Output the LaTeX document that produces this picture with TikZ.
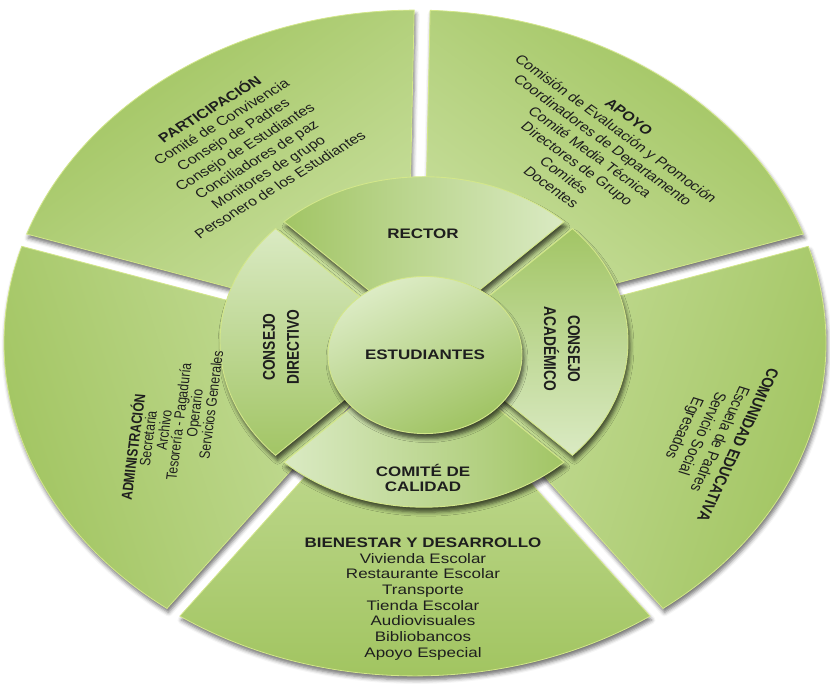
\documentclass[tikz,border=0pt]{standalone}
\usepackage{fontspec}
\setmainfont{Liberation Sans}
\usetikzlibrary{shadows.blur,calc}
\definecolor{gdark}{HTML}{9FC35D}
\definecolor{glight}{HTML}{CAE0A0}
\definecolor{mdark}{HTML}{A2C565}
\definecolor{mlight}{HTML}{DAEAC3}
\definecolor{ilight}{HTML}{DDECC6}
\definecolor{idark}{HTML}{9FC362}
\definecolor{edge}{HTML}{D3E78A}
\definecolor{ink}{HTML}{1E1E1E}
% ring segment: #1 style, #2 cx, #3 cy, #4 R, #5 t1, #6 t2, #7 half gap
\newcommand\ringseg[7]{%
  \pgfmathsetmacro\sgd{asin(#7/#4)}%
  \pgfmathsetmacro\sga{#5+\sgd}%
  \pgfmathsetmacro\sgb{#6-\sgd}%
  \pgfmathsetmacro\sgm{(#5+#6)/2}%
  \pgfmathsetmacro\sgr{#7/sin((#6-#5)/2)}%
  \path[#1] ([shift={(#2,#3)}]\sgm:\sgr pt) -- ([shift={(#2,#3)}]\sga:#4pt)
     arc[start angle=\sga, end angle=\sgb, radius=#4pt] -- cycle;
}
\tikzset{
  outerseg/.style={draw=edge, line width=0.8pt,
    blur shadow={shadow xshift=1.5pt, shadow yshift=-4pt, shadow blur radius=4pt, shadow opacity=55}},
  midseg/.style={draw=edge, line width=0.9pt,
    blur shadow={shadow xshift=2pt, shadow yshift=-5pt, shadow blur radius=4pt, shadow opacity=65}},
  listtxt/.style={text=ink, align=center, inner sep=0pt, font=\fontsize{16}{19.4}\selectfont},
  admtxt/.style={text=ink, inner sep=0pt, rotate=84, font=\fontsize{15}{17}\selectfont},
  midtxt/.style={text=ink, align=center, inner sep=0pt, font=\bfseries\fontsize{17}{20}\selectfont},
}
\begin{document}
\begin{tikzpicture}[x=1pt,y=1pt]
\begin{scope}[yscale=0.81, every node/.style={transform shape}]
\useasboundingbox (0,0) rectangle (830,849.38);
% outer ring (centre 415,425.9  R 411)
\ringseg{outerseg, top color=gdark, bottom color=glight, shading angle=36}{415}{425.9}{411}{89}{162}{8}
\ringseg{outerseg, top color=gdark, bottom color=glight, shading angle=108}{415}{425.9}{411}{162}{234}{8}
\ringseg{outerseg, top color=gdark, bottom color=glight, shading angle=180}{415}{425.9}{411}{234}{306}{8}
\ringseg{outerseg, top color=gdark, bottom color=glight, shading angle=252}{415}{425.9}{411}{306}{378}{8}
\ringseg{outerseg, top color=gdark, bottom color=glight, shading angle=-36}{415}{425.9}{411}{18}{89}{8}
% middle ring (centre 424,427.2  R 204)
\ringseg{midseg, left color=mdark, right color=mlight}{424}{427.2}{204}{45}{135}{6}
\ringseg{midseg, top color=mlight, bottom color=mdark}{424}{427.2}{204}{135}{225}{6}
\ringseg{midseg, left color=mlight, right color=mdark}{424}{427.2}{204}{225}{315}{6}
\ringseg{midseg, top color=mdark, bottom color=mlight}{424}{427.2}{204}{315}{405}{6}
% inner circle
\path[midseg, top color=ilight, bottom color=idark, shading angle=25] (425,411.1) circle[radius=97pt];
% middle labels
\node[midtxt] (est) at (425,411.1) {ESTUDIANTES};
\node[midtxt] (rector) at (423,560.5) {RECTOR};
\node[midtxt, font=\bfseries\fontsize{17}{24}\selectfont, rotate=90] (cdir) at (281,421) {CONSEJO\\DIRECTIVO};
\node[midtxt, font=\bfseries\fontsize{17}{24}\selectfont, rotate=-90] (cacad) at (562,418.5) {CONSEJO\\ACADÉMICO};
\node[midtxt, font=\bfseries\fontsize{17}{19.5}\selectfont] (calidad) at (423,259.3) {COMITÉ DE\\CALIDAD};
% outer labels
\node[listtxt, rotate=37] (part) at (244,669.1)
 {\textbf{PARTICIPACIÓN}\\Comité de Convivencia\\Consejo de Padres\\Consejo de Estudiantes\\Conciliadores de paz\\Monitores de grupo\\Personero de los Estudiantes};
\node[listtxt, rotate=-42] (apoyo) at (590,661.7)
 {\textbf{APOYO}\\Comisión de Evaluación y Promoción\\Coordinadores de Departamento\\Comité Media Técnica\\Directores de Grupo\\Comités\\Docentes};
\node[admtxt, font=\bfseries\fontsize{15}{17}\selectfont] (admin0) at (132,297.5) {ADMINISTRACIÓN};
\node[admtxt] (admin1) at (148,307.9) {Secretaria};
\node[admtxt] (admin2) at (164,318.3) {Archivo};
\node[admtxt] (admin3) at (180,328.6) {Tesorería - Pagaduría};
\node[admtxt] (admin4) at (196,339.0) {Operario};
\node[admtxt] (admin5) at (211,349.4) {Servicios Generales};
\node[listtxt, rotate=-111, font=\fontsize{16.5}{19}\selectfont] (comunidad) at (710,311.1)
 {\textbf{COMUNIDAD EDUCATIVA}\\Escuela de Padres\\Servicio Social\\Egresados};
\node[listtxt, font=\fontsize{17}{19.3}\selectfont] (bienestar) at (423,109.9)
 {\textbf{BIENESTAR Y DESARROLLO}\\Vivienda Escolar\\Restaurante Escolar\\Transporte\\Tienda Escolar\\Audiovisuales\\Bibliobancos\\Apoyo Especial};
\end{scope}
\end{tikzpicture}
\end{document}
